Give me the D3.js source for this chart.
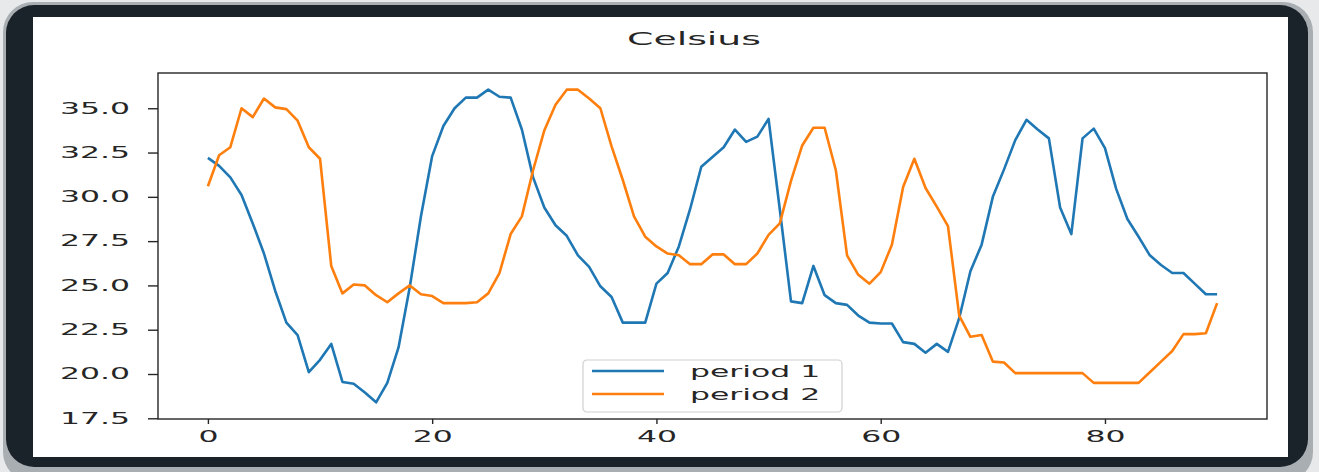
<!DOCTYPE html>
<html>
<head>
<meta charset="utf-8">
<script src="https://cdn.jsdelivr.net/npm/d3@7"></script>
<style>
  html, body { margin: 0; padding: 0; background: #e7e9ea; }
  svg { display: block; }
  text { font-family: "DejaVu Sans", sans-serif; fill: #262626; }
</style>
</head>
<body>
<div id="chart"></div>
<script>
// --- data ---
const seriesNames = ["period 1", "period 2"];
const seriesColors = ["#1f77b4", "#ff7f0e"];

const period1 = [
  32.2, 31.75, 31.1, 30.1, 28.5, 26.8, 24.7, 22.9, 22.2, 20.1,
  20.8, 21.7, 19.55, 19.45, 18.95, 18.4, 19.5, 21.5, 24.9, 28.9,
  32.3, 34.0, 35.0, 35.6, 35.6, 36.05, 35.65, 35.6, 33.8, 31.1,
  29.4, 28.4, 27.8, 26.7, 26.05, 24.95, 24.35, 22.9, 22.9, 22.9,
  25.1, 25.7, 27.2, 29.3, 31.7, 32.25, 32.8, 33.8, 33.1, 33.4,
  34.4, 29.3, 24.1, 24.0, 26.1, 24.45, 24.0, 23.9, 23.3, 22.9,
  22.85, 22.85, 21.8, 21.7, 21.2, 21.7, 21.25, 23.15, 25.8, 27.3,
  30.0, 31.55, 33.2, 34.35, 33.8, 33.3, 29.4, 27.9, 33.3, 33.85,
  32.75, 30.45, 28.75, 27.75, 26.7, 26.15, 25.7, 25.7, 25.1, 24.5,
  24.5
];

const period2 = [
  30.6, 32.35, 32.8, 35.0, 34.5, 35.55, 35.05, 34.95, 34.3, 32.8,
  32.15, 26.1, 24.55, 25.05, 25.0, 24.45, 24.05, 24.55, 25.0, 24.5,
  24.4, 24.0, 24.0, 24.0, 24.05, 24.55, 25.7, 27.9, 28.9, 31.5,
  33.75, 35.2, 36.05, 36.05, 35.55, 35.0, 32.85, 30.95, 28.9, 27.75,
  27.2, 26.8, 26.7, 26.2, 26.2, 26.75, 26.75, 26.2, 26.2, 26.8,
  27.85, 28.5, 30.9, 32.9, 33.9, 33.9, 31.5, 26.7, 25.6, 25.1,
  25.75, 27.3, 30.55, 32.15, 30.5, 29.45, 28.35, 23.3, 22.1, 22.2,
  20.7, 20.65, 20.05, 20.05, 20.05, 20.05, 20.05, 20.05, 20.05, 19.5,
  19.5, 19.5, 19.5, 19.5, 20.1, 20.7, 21.3, 22.25, 22.25, 22.3,
  24.0
];

const xTicks = [0, 20, 40, 60, 80];
const yTicks = [17.5, 20.0, 22.5, 25.0, 27.5, 30.0, 32.5, 35.0];
const titleText = "Celsius";

// --- layout ---
const W = 1319, H = 472;
const plot = { left: 158, right: 1267, top: 73, bottom: 419 };
const stretch = 2.1; // the picture is squashed wide, so text is too

const svg = d3.select("#chart").append("svg")
  .attr("width", W).attr("height", H);

// frame around the figure
svg.append("rect").attr("x", 0).attr("y", 0).attr("width", W).attr("height", H).attr("fill", "#e7e9ea");
svg.append("rect").attr("x", 3).attr("y", 2).attr("width", 1310).attr("height", 480)
  .attr("rx", 30).attr("fill", "#a9aeb2");
svg.append("rect").attr("x", 6).attr("y", 5).attr("width", 1302).attr("height", 462)
  .attr("rx", 28).attr("fill", "#1a222a");
svg.append("rect").attr("x", 33).attr("y", 17).attr("width", 1255).attr("height", 440)
  .attr("fill", "#ffffff");

// scales
const x = d3.scaleLinear().domain([-4.45, 94.45]).range([plot.left, plot.right]);
const y = d3.scaleLinear().domain([17.46, 36.99]).range([plot.bottom, plot.top]);

// title
svg.append("text")
  .attr("transform", `translate(694, 45) scale(${stretch},1)`)
  .attr("text-anchor", "middle")
  .attr("font-size", "18px")
  .text(titleText);

// lines
const line = d3.line()
  .x((d, i) => x(i))
  .y((d) => y(d));

[period1, period2].forEach((values, k) => {
  svg.append("path")
    .datum(values)
    .attr("fill", "none")
    .attr("stroke", seriesColors[k])
    .attr("stroke-width", 2.6)
    .attr("stroke-linejoin", "round")
    .attr("d", line);
});

// axes
const yAxis = svg.append("g")
  .attr("transform", `translate(${plot.left},0)`)
  .call(d3.axisLeft(y).tickValues(yTicks).tickSize(10).tickFormat(d3.format(".1f")));

const xAxis = svg.append("g")
  .attr("transform", `translate(0,${plot.bottom})`)
  .call(d3.axisBottom(x).tickValues(xTicks).tickSize(5).tickFormat(d3.format("d")));

[xAxis, yAxis].forEach((g) => {
  g.select(".domain").remove();
  g.selectAll(".tick line").attr("stroke", "#262626").attr("stroke-width", 1.4);
  g.selectAll(".tick text")
    .attr("font-size", "15px")
    .attr("font-family", "DejaVu Sans, sans-serif")
    .attr("fill", "#262626");
});

yAxis.selectAll(".tick text")
  .attr("x", -28 / stretch)
  .attr("transform", `scale(${stretch},1)`);

xAxis.selectAll(".tick text")
  .attr("y", 12)
  .attr("transform", `scale(${stretch},1)`);

// spines
svg.append("rect")
  .attr("x", plot.left).attr("y", plot.top)
  .attr("width", plot.right - plot.left).attr("height", plot.bottom - plot.top)
  .attr("fill", "none").attr("stroke", "#262626").attr("stroke-width", 1.4);

// legend
const legend = svg.append("g").attr("transform", "translate(583,360)");
legend.append("rect")
  .attr("width", 259).attr("height", 52).attr("rx", 4)
  .attr("fill", "rgba(255,255,255,0.8)")
  .attr("stroke", "#d0d0d0").attr("stroke-width", 1.2);

seriesNames.forEach((name, k) => {
  const row = legend.append("g").attr("transform", `translate(0,${11 + k * 23})`);
  row.append("line")
    .attr("x1", 9).attr("x2", 81).attr("y1", 0).attr("y2", 0)
    .attr("stroke", seriesColors[k]).attr("stroke-width", 2.6);
  row.append("text")
    .attr("transform", `translate(107,6) scale(${stretch},1)`)
    .attr("font-size", "15px")
    .text(name);
});
</script>
</body>
</html>
